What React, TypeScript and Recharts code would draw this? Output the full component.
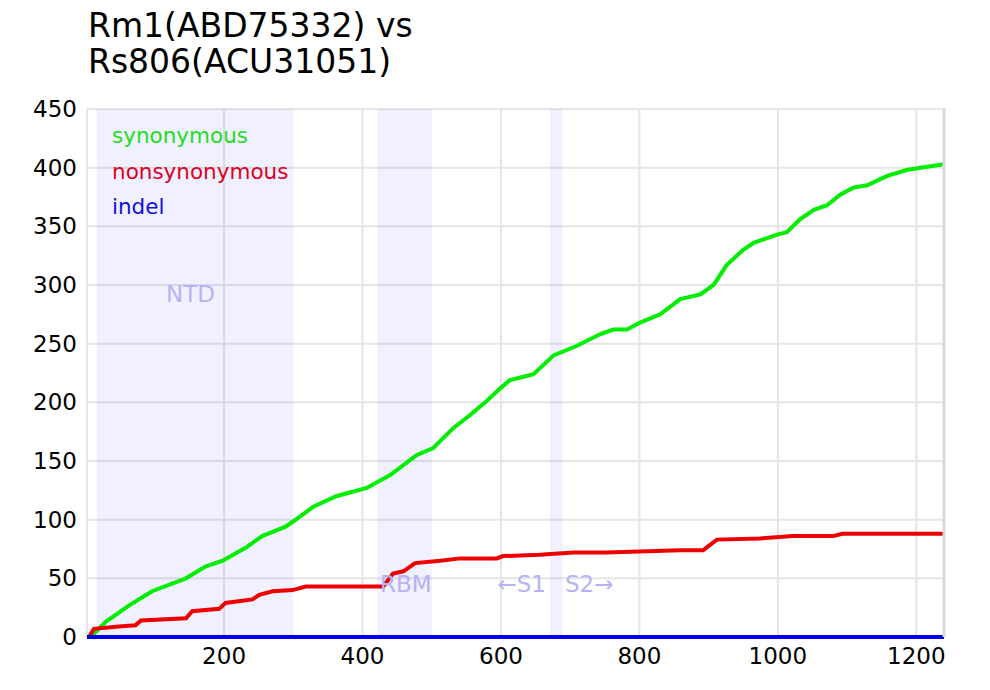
import { CartesianGrid, Line, LineChart, ReferenceArea, XAxis, YAxis } from "recharts";

const synPos = [2, 9, 29, 63, 96, 145, 173, 198, 231, 255, 289, 313, 329, 362, 406, 440, 478, 502, 531, 555, 579, 599, 613, 627, 647, 676, 709, 743, 762, 782, 801, 830, 859, 888, 907, 926, 950, 965, 999, 1013, 1032, 1052, 1071, 1090, 1109, 1129, 1158, 1186, 1206, 1240];
const synVals = [0, 1, 13, 27, 39, 50, 60, 65, 76, 86, 94, 104, 111, 120, 127, 138, 155, 161, 178, 189, 201, 212, 219, 221, 224, 240, 248, 258, 262, 262, 268, 275, 288, 292, 300, 317, 330, 336, 343, 345, 356, 364, 368, 377, 383, 385, 393, 398, 400, 403];

const nonsynPos = [2, 5, 12, 48, 72, 80, 145, 154, 193, 202, 241, 251, 270, 299, 318, 367, 430, 444, 459, 476, 512, 541, 594, 603, 656, 705, 753, 811, 859, 892, 912, 974, 1022, 1080, 1093, 1240];
const nonsynVals = [0, 0, 7, 9, 10, 14, 16, 22, 24, 29, 32, 36, 39, 40, 43, 43, 43, 54, 56, 63, 65, 67, 67, 69, 70, 72, 72, 73, 74, 74, 83, 84, 86, 86, 88, 88];

const indelPos = [2, 1240];
const indelVals = [0, 0];

const xTicks = [200, 400, 600, 800, 1000, 1200];
const yTicks = [0, 50, 100, 150, 200, 250, 300, 350, 400, 450];

const regions = [
  { name: "NTD", from: 16, to: 300 },
  { name: "RBM", from: 421, to: 500 },
  { name: "S1/S2", from: 671, to: 689 },
];

const toRows = (xs: number[], ys: number[]) => xs.map((x, i) => ({ pos: x, value: ys[i] }));

const font = "'DejaVu Sans', Verdana, sans-serif";
const tickStyle = { fontSize: 23, fill: "#000", fontFamily: font };
const regionText = "#b4b4f4";

export default function App() {
  return (
    <div style={{ position: "absolute", left: 0, top: 0, width: 990, height: 690, background: "#fff" }}>
      <LineChart width={990} height={690} margin={{ top: 109, right: 46, bottom: 0, left: 0 }}>
        <CartesianGrid stroke="#e5e5e5" strokeWidth={2} />
        <XAxis
          dataKey="pos"
          type="number"
          domain={[2, 1240]}
          ticks={xTicks}
          height={53}
          axisLine={false}
          tickLine={false}
          tickSize={0}
          tickMargin={11}
          tick={tickStyle}
        />
        <YAxis
          type="number"
          domain={[0, 450]}
          ticks={yTicks}
          width={87}
          axisLine={false}
          tickLine={false}
          tickSize={0}
          tickMargin={10}
          tick={tickStyle}
        />
        {regions.map((r) => (
          <ReferenceArea key={r.name} x1={r.from} x2={r.to} y1={0} y2={450} fill="#0000ff" fillOpacity={0.06} stroke="none" />
        ))}
        <Line data={toRows(synPos, synVals)} dataKey="value" type="linear" stroke="#00ee00" strokeWidth={4} dot={false} isAnimationActive={false} />
        <Line data={toRows(nonsynPos, nonsynVals)} dataKey="value" type="linear" stroke="#ee0000" strokeWidth={4} dot={false} isAnimationActive={false} />
        <Line data={toRows(indelPos, indelVals)} dataKey="value" type="linear" stroke="#0000ee" strokeWidth={4} dot={false} isAnimationActive={false} />
      </LineChart>
      <svg width={990} height={690} style={{ position: "absolute", left: 0, top: 0, pointerEvents: "none" }}>
        <line x1={944} y1={108} x2={944} y2={637} stroke="#d9d9d9" strokeWidth={3} />
        <text x={88} y={37} fontSize={33} fontFamily={font} fill="#000">Rm1(ABD75332) vs</text>
        <text x={88} y={73} fontSize={33} fontFamily={font} fill="#000">Rs806(ACU31051)</text>
        <text x={112} y={143} fontSize={21.5} fontFamily={font} fill="#22dd22">synonymous</text>
        <text x={112} y={179} fontSize={21.5} fontFamily={font} fill="#dd0022">nonsynonymous</text>
        <text x={112} y={214} fontSize={21.5} fontFamily={font} fill="#1010d8">indel</text>
        <text x={166} y={302} fontSize={23} fontFamily={font} fill={regionText}>NTD</text>
        <text x={380} y={592} fontSize={23} fontFamily={font} fill={regionText}>RBM</text>
        <text x={546} y={592} fontSize={23} fontFamily={font} fill={regionText} textAnchor="end">←S1</text>
        <text x={565} y={592} fontSize={23} fontFamily={font} fill={regionText}>S2→</text>
      </svg>
    </div>
  );
}
